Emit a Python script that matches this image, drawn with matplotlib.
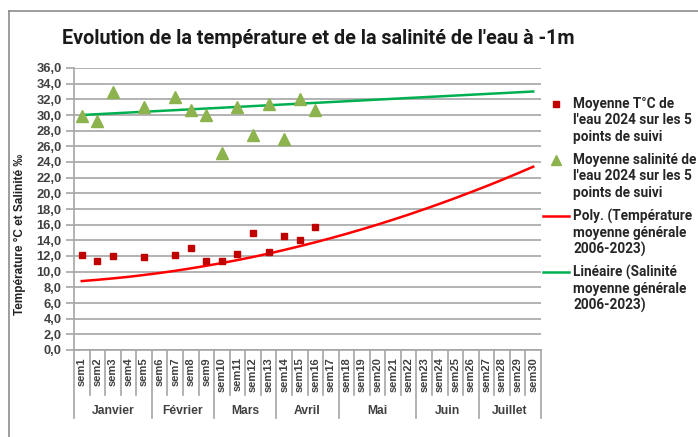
import matplotlib
matplotlib.use("Agg")
import matplotlib.pyplot as plt
from matplotlib.lines import Line2D
import numpy as np

# week categories and month groups
weeks = ["sem%d" % i for i in range(1, 31)]
months = ["Janvier", "Février", "Mars", "Avril", "Mai", "Juin", "Juillet"]
month_len = [5, 4, 4, 4, 5, 4, 4]

nan = np.nan
temp_2024 = [12.1, 11.3, 12.05, nan, 11.9, nan, 12.1, 13.0, 11.3, 11.3,
             12.2, 14.9, 12.5, 14.55, 14.1, 15.7] + [nan] * 14
sal_2024 = [29.9, 29.2, 33.0, nan, 31.0, nan, 32.3, 30.7, 30.0, 25.1,
            31.0, 27.4, 31.4, 26.9, 32.0, 30.6] + [nan] * 14

# trend lines (2006-2023 averages)
temp_trend = [8.80, 8.96, 9.14, 9.34, 9.58, 9.83, 10.11, 10.42, 10.75, 11.10,
              11.48, 11.88, 12.31, 12.77, 13.25, 13.75, 14.28, 14.83, 15.41, 16.01,
              16.64, 17.29, 17.97, 18.67, 19.40, 20.15, 20.92, 21.72, 22.55, 23.40]
sal_trend_ends = [30.0, 33.0]

W, H = 698, 437
fig = plt.figure(figsize=(W / 100, H / 100), dpi=100)
ax = fig.add_axes([74 / W, 1 - 350 / H, (541 - 74) / W, (350 - 68) / H])

x = np.arange(len(weeks))
grid_c = "#A6A6A6"
txt_c = "#404040"

ax.plot(x, temp_trend, color="#FF0000", lw=1.8, zorder=3)
ax.plot([x[0], x[-1]], sal_trend_ends, color="#00B050", lw=1.8, zorder=3)
ax.plot(x, temp_2024, ls="none", marker="s", ms=5, color="#C00000", zorder=4)
ax.plot(x, sal_2024, ls="none", marker="^", ms=8, color="#8DB34F", zorder=4)

ax.set_xlim(-0.5, len(weeks) - 0.5)
ax.set_ylim(0, 36)
yt = np.arange(0, 37, 2)
ax.set_yticks(yt)
ax.set_yticklabels([("%.1f" % v).replace(".", ",") for v in yt], fontsize=9.3,
                   fontweight="bold", color=txt_c, family="Liberation Sans")
ax.tick_params(axis="y", length=6, width=1.2, color=grid_c, pad=3)
ax.set_xticks([])
ax.grid(axis="y", color=grid_c, lw=1.2)
ax.set_axisbelow(True)
for s in ["top", "right"]:
    ax.spines[s].set_visible(False)
ax.spines["left"].set_color(grid_c)
ax.spines["bottom"].set_color(grid_c)
ax.spines["left"].set_linewidth(1.2)
ax.spines["bottom"].set_linewidth(1.2)

# multi-level category axis
tr = ax.get_xaxis_transform()
axh = 350 - 68
y_short = -45 / axh
y_long = -68 / axh
bounds = np.cumsum([0] + month_len) - 0.5
for b in np.arange(-0.5, len(weeks)):
    yb = y_long if b in bounds else y_short
    ax.plot([b, b], [0, yb], transform=tr, color=grid_c, lw=1.2, clip_on=False)
for i, w in enumerate(weeks):
    ax.text(i, -7 / axh, w, transform=tr, rotation=90, ha="center", va="top",
            fontsize=8, fontweight="bold", color=txt_c, family="Liberation Sans")
for m, a, b in zip(months, bounds[:-1], bounds[1:]):
    ax.text((a + b) / 2, -61 / axh, m, transform=tr, ha="center", va="center",
            fontsize=8.7, fontweight="bold", color=txt_c, family="Liberation Sans")

ax.text(-0.115, 0.41, "Température °C et Salinité ‰", transform=ax.transAxes,
        rotation=90, ha="center", va="center", fontsize=8.5, fontweight="bold",
        color="#222222", family="Liberation Sans")

fig.text(62 / W, 1 - 38 / H, "Evolution de la température et de la salinité de l'eau à -1m",
         ha="left", va="center", fontsize=14.2, fontweight="bold", color="#1a1a1a",
         family="Roboto")

# chart frame (left and top edges)
fig.add_artist(Line2D([9 / W, 9 / W], [0, 1 - 11 / H], transform=fig.transFigure,
                      color="#8c8c8c", lw=1.2))
fig.add_artist(Line2D([9 / W, 1], [1 - 11 / H, 1 - 11 / H], transform=fig.transFigure,
                      color="#8c8c8c", lw=1.2))

# legend drawn by hand
leg = [
    ("s", "#C00000", "Moyenne T°C de\nl'eau 2024 sur les 5\npoints de suivi", 104),
    ("^", "#8DB34F", "Moyenne salinité de\nl'eau 2024 sur les 5\npoints de suivi", 160),
    ("-", "#FF0000", "Poly. (Température\nmoyenne générale\n2006-2023)", 216),
    ("-", "#00B050", "Linéaire (Salinité\nmoyenne générale\n2006-2023)", 272),
]
for mk, c, label, yp in leg:
    yf = 1 - yp / H
    if mk == "-":
        fig.add_artist(Line2D([543 / W, 569 / W], [yf, yf], transform=fig.transFigure,
                              color=c, lw=1.8))
    else:
        fig.add_artist(Line2D([556 / W], [yf], transform=fig.transFigure, ls="none",
                              marker=mk, ms=5 if mk == "s" else 7, color=c))
    for k, line in enumerate(label.split("\n")):
        fig.text(573 / W, 1 - (yp + 16.5 * k) / H, line, ha="left", va="center",
                 fontsize=9.8, fontweight="bold", color="#262626", family="Roboto")

fig.savefig("out.png", dpi=100)
